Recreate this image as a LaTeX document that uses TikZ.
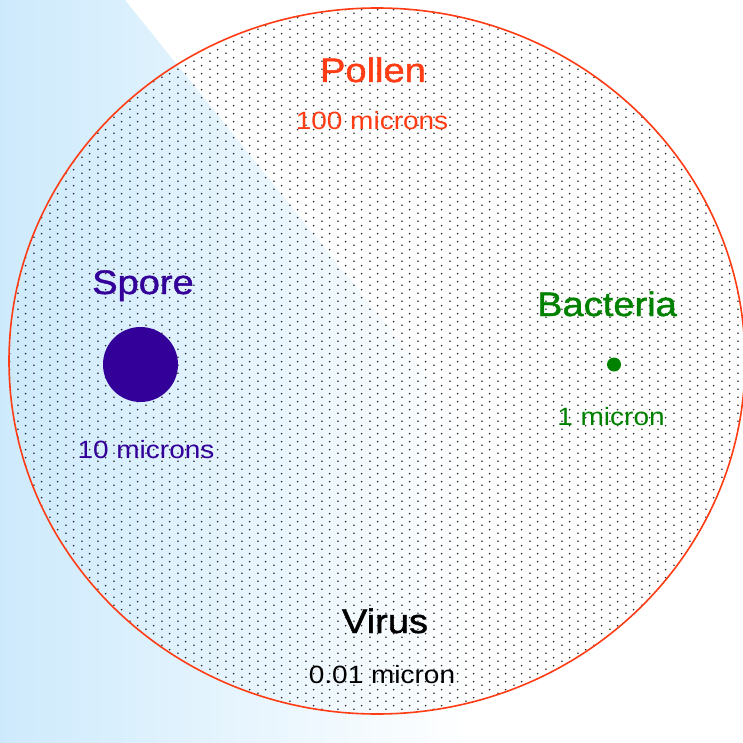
\documentclass[tikz,border=0pt]{standalone}
\usepackage{fontspec}
\setmainfont{Liberation Sans}[FakeStretch=1.12]
\newfontfamily\titfont{Liberation Sans}[FakeStretch=1.12, FakeBold=1.2]
\usetikzlibrary{patterns.meta}

\definecolor{cielo}{RGB}{205,234,252}
\definecolor{polen}{RGB}{255,60,20}
\definecolor{espora}{RGB}{51,0,153}
\definecolor{bacteria}{RGB}{0,130,0}

\tikzdeclarepattern{
    name=motas,
    type=colored,
    bottom left={(0pt,0pt)},
    top right={(16.2pt,8pt)},
    tile size={(16.2pt,8pt)},
    code={
        \fill[black!85] (2pt,2pt) circle [radius=0.95pt];
        \fill[black!85] (10.1pt,6pt) circle [radius=0.95pt];
    }
}

\tikzset{
    titulo/.style={
        anchor=base,
        inner sep=0pt,
        font=\titfont\fontsize{34}{36}\selectfont
    },
    medida/.style={
        anchor=base,
        inner sep=0pt,
        font=\fontsize{25}{27}\selectfont
    },
    particula/.style={
        circle,
        inner sep=0pt
    }
}

\begin{document}
\begin{tikzpicture}[
    x=1pt,
    y=-1pt
]

    \useasboundingbox (0,0) rectangle (742,743);

    % Fondo
    \begin{scope}
        \clip (0,0) -- (125,0) -- (723,743) -- (0,743) -- cycle;
        \shade[left color=cielo, right color=white] (0,0) rectangle (470,743);
    \end{scope}

    % Grano de polen
    \path[pattern=motas] (377,361) ellipse [x radius=368, y radius=353];
    \draw[polen, line width=1.6pt] (377,361) ellipse [x radius=368, y radius=353];

    % Particulas
    \node[particula, fill=espora, minimum size=75pt]   (espora)   at (140.5,364.5) {};
    \node[particula, fill=bacteria, minimum size=14pt] (bacteria) at (614,364.5)   {};

    % Nombres
    \node[titulo, text=polen]    (tpolen)    at (373,82)  {Pollen};
    \node[titulo, text=espora]   (tespora)   at (143,294) {Spore};
    \node[titulo, text=bacteria] (tbacteria) at (607,316) {Bacteria};
    \node[titulo]                (tvirus)    at (385,633) {Virus};

    % Medidas
    \node[medida, text=polen]    (mpolen)    at (372,130) {100 microns};
    \node[medida, text=espora]   (mespora)   at (146,458) {10 microns};
    \node[medida, text=bacteria] (mbacteria) at (611,425) {1 micron};
    \node[medida]                (mvirus)    at (382,683) {0.01 micron};

\end{tikzpicture}
\end{document}
